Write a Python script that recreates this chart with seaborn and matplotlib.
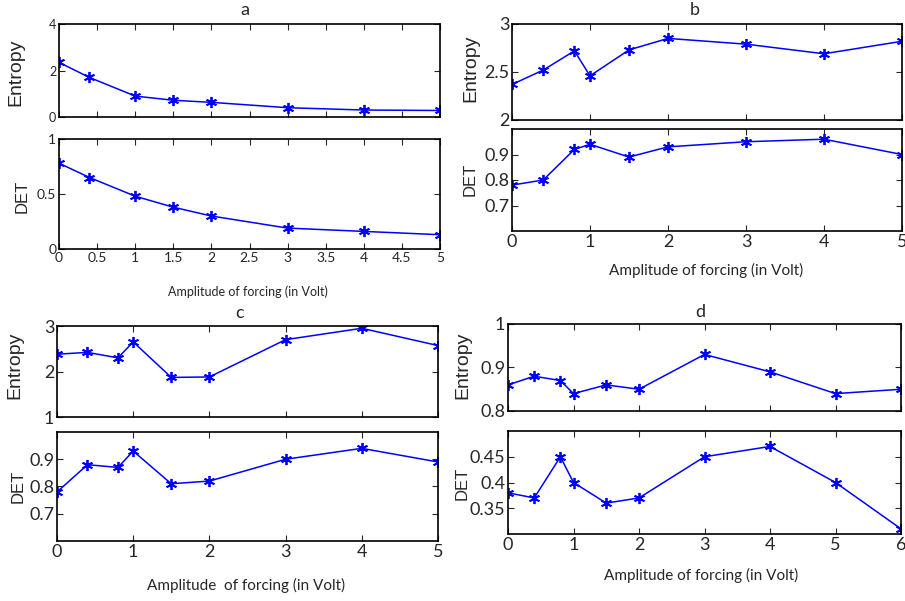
import numpy as np
import pandas as pd
import matplotlib
matplotlib.use('Agg')
import matplotlib.pyplot as plt
import seaborn as sns

# ─────────────────────────────────────────
# Data
# ─────────────────────────────────────────
amp_a     = [0, 0.4, 1, 1.5, 2, 3, 4, 5]
entropy_a = [2.35, 1.70, 0.90, 0.72, 0.63, 0.40, 0.30, 0.28]
det_a     = [0.78, 0.65, 0.48, 0.38, 0.30, 0.19, 0.16, 0.13]

amp_b     = [0, 0.4, 0.8, 1, 1.5, 2, 3, 4, 5]
entropy_b = [2.37, 2.52, 2.72, 2.46, 2.73, 2.85, 2.79, 2.69, 2.82]
det_b     = [0.78, 0.80, 0.92, 0.94, 0.89, 0.93, 0.95, 0.96, 0.90]

amp_c     = [0, 0.4, 0.8, 1, 1.5, 2, 3, 4, 5]
entropy_c = [2.38, 2.42, 2.30, 2.65, 1.87, 1.88, 2.70, 2.95, 2.57]
det_c     = [0.78, 0.88, 0.87, 0.93, 0.81, 0.82, 0.90, 0.94, 0.89]

amp_d     = [0, 0.4, 0.8, 1, 1.5, 2, 3, 4, 5, 6]
entropy_d = [0.86, 0.88, 0.87, 0.84, 0.86, 0.85, 0.93, 0.89, 0.84, 0.85]
det_d     = [0.38, 0.37, 0.45, 0.40, 0.36, 0.37, 0.45, 0.47, 0.40, 0.31]

sns.set_style('ticks')
plt.rcParams['font.family'] = ['Lato', 'DejaVu Sans']

W, H = 905, 601
fig = plt.figure(figsize=(W / 100, H / 100), dpi=100)


def px_axes(left, top, right, bottom):
    return fig.add_axes([left / W, 1 - bottom / H,
                         (right - left) / W, (bottom - top) / H])


def px_text(x, y, s, **kw):
    fig.text(x / W, 1 - y / H, s, ha='center', va='center', **kw)


def draw(ax, x, y, xlim, xticks, ylim, yticks, ylabels, fs, show_x):
    df = pd.DataFrame({'amp': x, 'val': y})
    # MATLAB-style asterisk marker: three crossing strokes
    sns.lineplot(data=df, x='amp', y='val', ax=ax, color='blue',
                 marker=(6, 2, 0), markersize=8, markeredgecolor='blue',
                 markeredgewidth=1.3, linewidth=1.1)
    ax.set_xlim(*xlim)
    ax.set_ylim(*ylim)
    ax.set_xticks(xticks)
    ax.set_yticks(yticks)
    ax.set_yticklabels(ylabels)
    ax.set_xlabel('')
    ax.set_ylabel('')
    ax.tick_params(direction='in', top=True, right=True, length=4,
                   width=0.8, labelsize=fs, pad=2, labelbottom=show_x)
    for sp in ax.spines.values():
        sp.set_visible(True)
        sp.set_linewidth(1.2)
        sp.set_color('black')
    if show_x:
        ax.set_xticklabels([f'{t:g}' for t in xticks])


label_font = ['Liberation Sans', 'DejaVu Sans']
xlab = 'Amplitude of forcing (in Volt)'

# ── panel a ──
ticks_a = [0, 0.5, 1, 1.5, 2, 2.5, 3, 3.5, 4, 4.5, 5]
ax = px_axes(59, 24, 440, 117)
draw(ax, amp_a, entropy_a, (0, 5), ticks_a, (0, 4), [0, 2, 4],
     ['0', '2', '4'], 9, False)
ax = px_axes(59, 139, 440, 249)
draw(ax, amp_a, det_a, (0, 5), ticks_a, (0, 1), [0, 0.5, 1],
     ['0', '0.5', '1'], 10, True)
px_text(245, 10, 'a', fontsize=13)
px_text(16, 72, 'Entropy', fontsize=14, rotation=90, family=label_font)
px_text(22, 196, 'DET', fontsize=12, rotation=90, family=label_font)
px_text(248, 292, xlab, fontsize=9)

# ── panel b ──
ticks_int5 = [0, 1, 2, 3, 4, 5]
ax = px_axes(512, 24, 902, 120)
draw(ax, amp_b, entropy_b, (0, 5), ticks_int5, (2, 3), [2, 2.5, 3],
     ['2', '2.5', '3'], 13, False)
ax = px_axes(512, 129, 902, 231)
draw(ax, amp_b, det_b, (0, 5), ticks_int5, (0.6, 1.0), [0.7, 0.8, 0.9],
     ['0.7', '0.8', '0.9'], 13, True)
px_text(695, 10, 'b', fontsize=13)
px_text(471, 68, 'Entropy', fontsize=14, rotation=90, family=label_font)
px_text(470, 179, 'DET', fontsize=12, rotation=90, family=label_font)
px_text(706, 270, xlab, fontsize=11)

# ── panel c ──
ax = px_axes(57, 326, 438, 417)
draw(ax, amp_c, entropy_c, (0, 5), ticks_int5, (1, 3), [1, 2, 3],
     ['1', '2', '3'], 13, False)
ax = px_axes(57, 432, 438, 541)
draw(ax, amp_c, det_c, (0, 5), ticks_int5, (0.6, 1.0), [0.7, 0.8, 0.9],
     ['0.7', '0.8', '0.9'], 13, True)
px_text(240, 313, 'c', fontsize=13)
px_text(15, 365, 'Entropy', fontsize=14, rotation=90, family=label_font)
px_text(18, 486, 'DET', fontsize=12, rotation=90, family=label_font)
px_text(246, 585, 'Amplitude  of forcing (in Volt)', fontsize=11)

# ── panel d ──
ticks_int6 = [0, 1, 2, 3, 4, 5, 6]
ax = px_axes(508, 324, 901, 411)
draw(ax, amp_d, entropy_d, (0, 6), ticks_int6, (0.8, 1.0), [0.8, 0.9, 1.0],
     ['0.8', '0.9', '1'], 13, False)
ax = px_axes(508, 431, 901, 534)
draw(ax, amp_d, det_d, (0, 6), ticks_int6, (0.3, 0.5), [0.35, 0.4, 0.45],
     ['0.35', '0.4', '0.45'], 13, True)
px_text(700, 312, 'd', fontsize=13)
px_text(463, 365, 'Entropy', fontsize=14, rotation=90, family=label_font)
px_text(462, 483, 'DET', fontsize=12, rotation=90, family=label_font)
px_text(701, 575, xlab, fontsize=11)

fig.savefig('out.png', dpi=100)
